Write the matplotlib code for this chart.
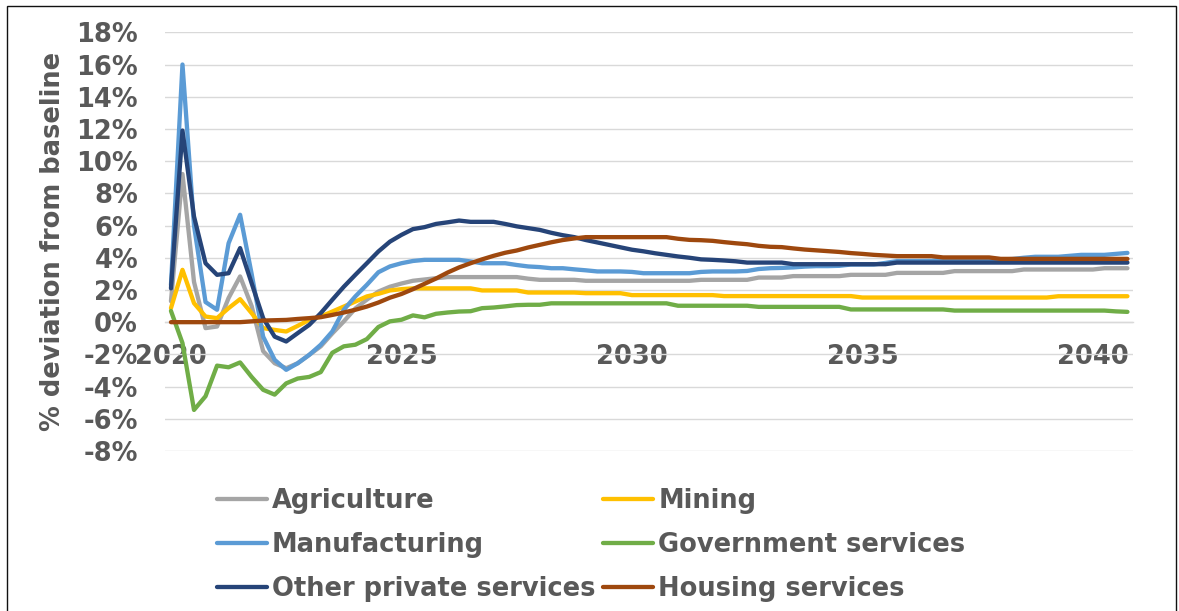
import numpy as np
import matplotlib
matplotlib.use("Agg")
import matplotlib.pyplot as plt
from matplotlib.patches import Rectangle

# Quarterly % deviation from baseline, 2020Q1 .. 2040Q4
agriculture = (
    [1.3, 9.2, 2.5, -0.37, -0.27, 1.5, 2.84, 1.0, -1.8, -2.55, -2.86, -2.55,
     -2.03, -1.5, -0.7, 0.05, 0.85, 1.4, 1.9, 2.2, 2.4, 2.57, 2.65, 2.73]
    + [2.8] * 7 + [2.7] + [2.63] * 4 + [2.57] * 10 + [2.63] * 5 + [2.77] * 3
    + [2.86] * 5 + [2.94] * 4 + [3.06] * 5 + [3.17] * 6 + [3.27] * 7 + [3.35] * 3
)
mining = (
    [0.87, 3.25, 1.18, 0.35, 0.25, 0.87, 1.43, 0.56, -0.37, -0.48, -0.58, -0.23,
     0.14, 0.35, 0.66, 0.97, 1.28, 1.6, 1.76, 1.97, 2.05]
    + [2.1] * 6 + [1.97] * 4 + [1.84] * 5 + [1.8] * 4 + [1.68] * 8
    + [1.62] * 12 + [1.53] * 17 + [1.61] * 7
)
manufacturing = [
    2.3, 16.0, 6.0, 1.25, 0.77, 4.9, 6.67, 3.0, -0.9, -2.34, -2.96, -2.55,
    -2.03, -1.4, -0.58, 0.77, 1.6, 2.32, 3.1, 3.46, 3.66, 3.8, 3.87, 3.87,
    3.87, 3.87, 3.77, 3.66, 3.66, 3.66, 3.55, 3.46, 3.42, 3.35, 3.35, 3.28,
    3.22, 3.15, 3.15, 3.15, 3.12, 3.04, 3.04, 3.04, 3.04, 3.04, 3.12, 3.15,
    3.15, 3.15, 3.18, 3.3, 3.35, 3.37, 3.4, 3.45, 3.48, 3.48, 3.5, 3.58,
    3.58, 3.58, 3.68, 3.79, 3.79, 3.79, 3.8, 3.9, 3.9, 3.9, 3.9, 3.9,
    3.9, 3.92, 4.0, 4.06, 4.06, 4.06, 4.12, 4.18, 4.18, 4.18, 4.24, 4.3,
]
government = (
    [0.7, -1.3, -5.45, -4.6, -2.7, -2.8, -2.5, -3.4, -4.2, -4.5, -3.8, -3.5,
     -3.4, -3.1, -1.9, -1.5, -1.4, -1.05, -0.3, 0.05, 0.15, 0.42, 0.3, 0.52,
     0.6, 0.66, 0.68, 0.87, 0.91, 0.98, 1.06, 1.08, 1.08]
    + [1.17] * 11 + [1.02] * 7 + [0.95] * 8 + [0.79] * 9 + [0.72] * 14
    + [0.67, 0.64]
)
other_private = (
    [2.1, 11.9, 6.56, 3.66, 2.94, 3.04, 4.6, 2.42, 0.25, -0.9, -1.2, -0.68,
     -0.17, 0.56, 1.39, 2.2, 2.94, 3.66, 4.39, 5.0, 5.42, 5.78, 5.9, 6.1,
     6.2, 6.31, 6.23, 6.23, 6.23, 6.1, 5.95, 5.84, 5.73, 5.55, 5.4, 5.28,
     5.1, 4.95, 4.8, 4.65, 4.5, 4.4, 4.28, 4.18, 4.08, 4.0, 3.9, 3.87,
     3.83, 3.78, 3.7, 3.7, 3.7, 3.7]
    + [3.6] * 9 + [3.7] * 21
)
housing = (
    [0.0] * 7
    + [0.05, 0.1, 0.12, 0.14, 0.2, 0.25, 0.31, 0.45, 0.6, 0.77, 0.97, 1.22,
       1.52, 1.75, 2.05, 2.38, 2.71, 3.08, 3.4, 3.66, 3.9, 4.12, 4.31, 4.45,
       4.64, 4.8, 4.96, 5.1, 5.2]
    + [5.28] * 8
    + [5.18, 5.11, 5.09, 5.05, 4.97, 4.9, 4.84, 4.74, 4.68, 4.66, 4.58, 4.51,
       4.46, 4.41, 4.36, 4.29, 4.24, 4.18, 4.14]
    + [4.1] * 4 + [4.02] * 5 + [3.93] * 12
)

series_names = ["Agriculture", "Mining", "Manufacturing", "Government services",
                "Other private services", "Housing services"]
series_values = [agriculture, mining, manufacturing, government, other_private, housing]
series_colors = ["#a5a5a5", "#ffc000", "#5b9bd5", "#70ad47", "#264478", "#9e480e"]

start_year = 2020
year_labels = ["2020", "2025", "2030", "2035", "2040"]
y_ticks = [-8, -6, -4, -2, 0, 2, 4, 6, 8, 10, 12, 14, 16, 18]

TEXT = "#595959"
FS = 18.5
plt.rcParams["font.family"] = ["DejaVu Sans"]
plt.rcParams["font.weight"] = "bold"

W, H = 1179, 611
fig = plt.figure(figsize=(W / 100, H / 100), dpi=100)
ax = fig.add_axes([165.2 / W, (H - 451) / H, 968 / W, (451 - 32.3) / H])

quarters = np.arange(len(agriculture))
lines = []
for name, vals, col in zip(series_names, series_values, series_colors):
    ln, = ax.plot(quarters, vals, color=col, lw=3.1, label=name,
                  solid_joinstyle="round", solid_capstyle="round", zorder=3)
    lines.append(ln)

ax.set_xlim(-0.5, len(agriculture) - 0.5)
ax.set_ylim(-8, 18)

ax.set_yticks(y_ticks)
ax.set_yticklabels([f"{v}%" for v in y_ticks])
ax.set_xticks([(int(y) - start_year) * 4 for y in year_labels])
ax.set_xticklabels(year_labels)

ax.grid(axis="y", color="#d9d9d9", lw=1.0, zorder=0)
ax.grid(axis="x", visible=False)
for s in ["top", "right", "left"]:
    ax.spines[s].set_visible(False)
ax.spines["bottom"].set_position(("data", 0))
ax.spines["bottom"].set_color("#d9d9d9")
ax.spines["bottom"].set_linewidth(1.0)
ax.spines["bottom"].set_zorder(0)

ax.tick_params(axis="y", length=0, pad=19.5, labelsize=FS, labelcolor=TEXT)
ax.tick_params(axis="x", length=0, pad=16, labelsize=FS, labelcolor=TEXT)
for t in ax.get_xticklabels() + ax.get_yticklabels():
    t.set_fontweight("bold")

fig.text(53 / W, 1 - 241 / H, "% deviation from baseline", rotation=90,
         ha="center", va="center", fontsize=FS, fontweight="bold", color=TEXT)

# legend filled row by row: two columns
order = [0, 2, 4, 1, 3, 5]
leg = fig.legend([lines[i] for i in order], [series_names[i] for i in order],
                 ncol=2, loc="center", bbox_to_anchor=(591 / W, 1 - 545 / H),
                 frameon=False, fontsize=FS, handlelength=1.95,
                 handletextpad=0.2, columnspacing=0.3, labelspacing=0.7,
                 borderaxespad=0, borderpad=0)
for t in leg.get_texts():
    t.set_color(TEXT)
    t.set_fontweight("bold")
for h in leg.legend_handles:
    h.set_linewidth(3.1)

# outer frame
fig.patches.append(Rectangle((7 / W, -0.02), (1176 - 7) / W, 1 - 5.5 / H + 0.02,
                             transform=fig.transFigure, fill=False,
                             edgecolor="#111111", lw=1.0, clip_on=False))

fig.savefig("out.png", dpi=100, facecolor="white")
